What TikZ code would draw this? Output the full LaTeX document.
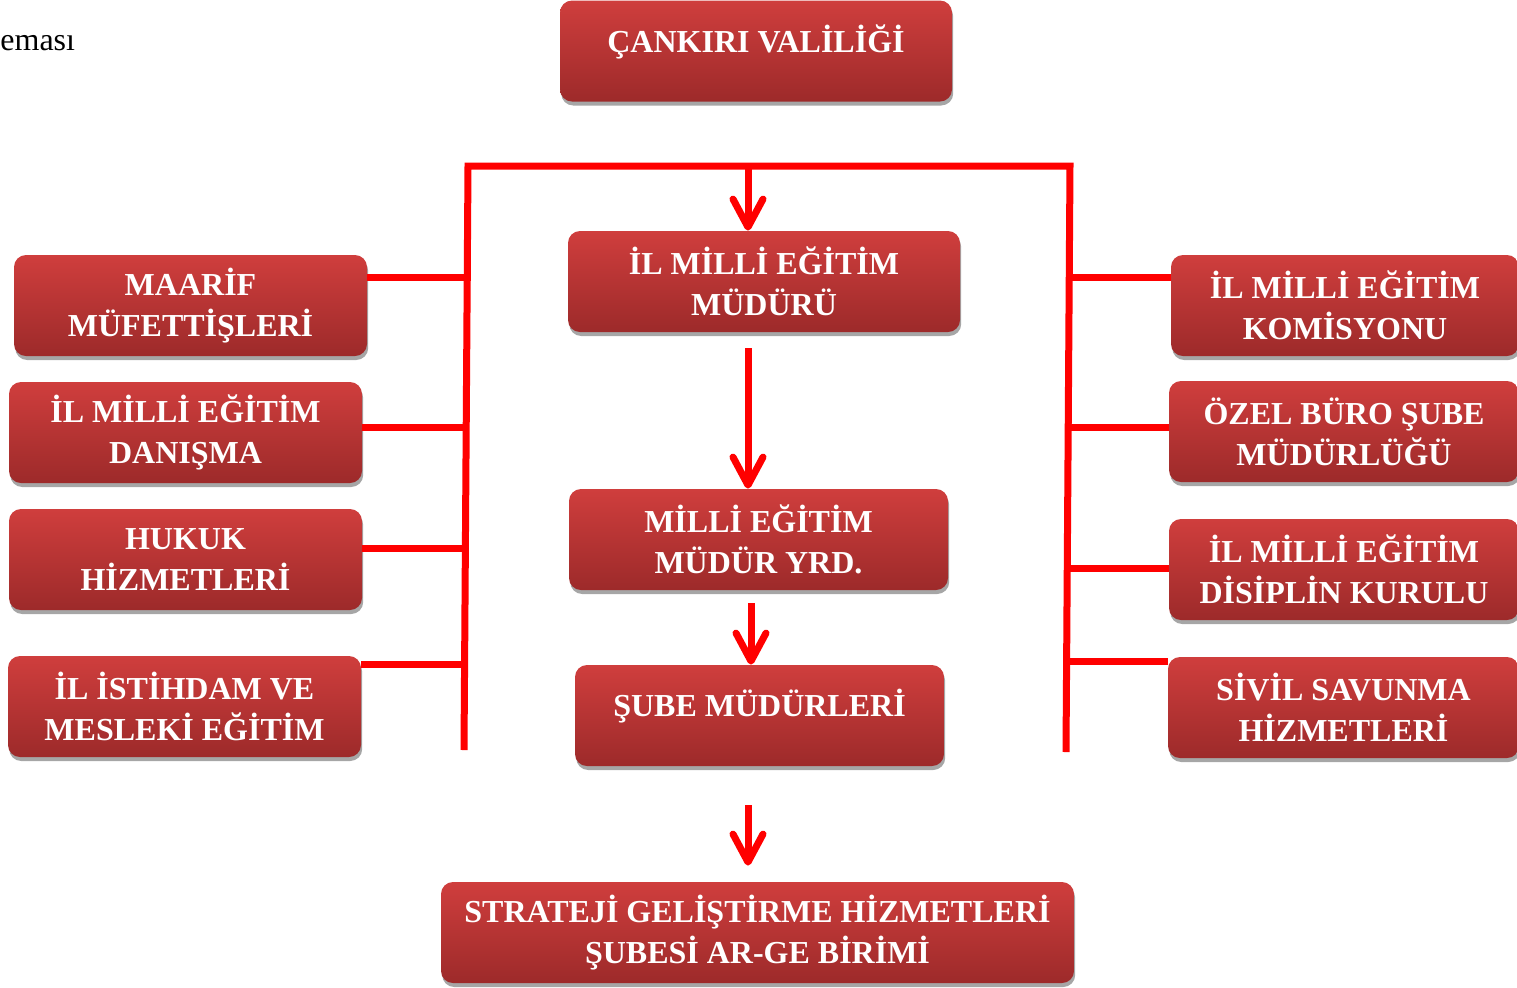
\documentclass[tikz,border=0pt]{standalone}
\usepackage{fontspec}
\setmainfont{Liberation Serif}
\usetikzlibrary{arrows.meta,shadows}
\definecolor{boxtop}{RGB}{207,62,61}
\definecolor{boxbot}{RGB}{157,42,42}
\definecolor{barred}{RGB}{255,0,0}
\tikzset{
  unit/.style={rounded corners=6pt, top color=boxtop, bottom color=boxbot,
    text=white, align=center, inner sep=2pt, minimum height=50.5pt,
    font=\bfseries\fontsize{16}{20.5}\selectfont,
    drop shadow={shadow xshift=0.6pt, shadow yshift=-2pt, fill=black!35, opacity=1}},
  oneline/.style={text height=14pt, text depth=13pt},
  bar/.style={line width=3.5pt, barred},
  arr/.style={line width=3.5pt, barred, -{Straight Barb[length=14pt,width=15pt,round]}}
}
\begin{document}
\begin{tikzpicture}[x=0.5pt,y=-0.5pt]
    \useasboundingbox (0,0) rectangle (1517,987);
    \node[anchor=base west, inner sep=0, font=\fontsize{16}{18}\selectfont] (caption) at (0,50) {emas\i};
    % centre column
    \node[unit, oneline, minimum width=196pt] (vali) at (756,51) {ÇANKIRI VALİLİĞİ};
    \node[unit, minimum width=196pt] (mudur) at (764,281.5) {İL MİLLİ EĞİTİM\\MÜDÜRÜ};
    \node[unit, minimum width=189.5pt] (yrd) at (758.5,539.5) {MİLLİ EĞİTİM\\MÜDÜR YRD.};
    \node[unit, oneline, minimum width=184.5pt] (sube) at (759.5,715.5) {ŞUBE MÜDÜRLERİ};
    \node[unit, minimum width=316.5pt] (strat) at (757.5,932.5) {STRATEJİ GELİŞTİRME HİZMETLERİ\\ŞUBESİ AR-GE BİRİMİ};
    % left column
    \node[unit, minimum width=176.5pt] (maarif) at (190.5,305.5) {MAARİF\\MÜFETTİŞLERİ};
    \node[unit, minimum width=176.5pt] (danisma) at (185.5,432.5) {İL MİLLİ EĞİTİM\\DANIŞMA};
    \node[unit, minimum width=176.5pt] (hukuk) at (185.5,559.5) {HUKUK\\HİZMETLERİ};
    \node[unit, minimum width=176.5pt] (istihdam) at (184.5,706.5) {İL İSTİHDAM VE\\MESLEKİ EĞİTİM};
    % right column
    \node[unit, minimum width=174pt] (komisyon) at (1345,305.5) {İL MİLLİ EĞİTİM\\KOMİSYONU};
    \node[unit, minimum width=175pt] (ozel) at (1344,431.5) {ÖZEL BÜRO ŞUBE\\MÜDÜRLÜĞÜ};
    \node[unit, minimum width=175pt] (disiplin) at (1344,569.5) {İL MİLLİ EĞİTİM\\DİSİPLİN KURULU};
    \node[unit, minimum width=175.5pt] (sivil) at (1343.5,707.5) {SİVİL SAVUNMA\\HİZMETLERİ};
    % frame
    \coordinate (lt) at (468,166);
    \coordinate (lb) at (464,750);
    \coordinate (rt) at (1070,166);
    \coordinate (rb) at (1066,752);
    \draw[bar] (lb) -- (lt) -- (rt) -- (rb);
    \draw[bar] (maarif.east |- 0,277) -- (471,277);
    \draw[bar] (danisma.east |- 0,427) -- (lt |- 0,427);
    \draw[bar] (hukuk.east |- 0,548) -- (lt |- 0,548);
    \draw[bar] (istihdam.east |- 0,664) -- (lt |- 0,664);
    \draw[bar] (komisyon.west |- 0,277) -- (rt |- 0,277);
    \draw[bar] (ozel.west |- 0,427) -- (rt |- 0,427);
    \draw[bar] (disiplin.west |- 0,568) -- (rt |- 0,568);
    \draw[bar] (sivil.west |- 0,661) -- (rt |- 0,661);
    % arrows
    \coordinate (a1) at (748,166);
    \coordinate (a2) at (748,348);
    \coordinate (a3) at (751,603);
    \coordinate (a4) at (748,805);
    \draw[arr] (a1) -- (a1 |- mudur.north);
    \draw[arr] (a2) -- (a2 |- yrd.north);
    \draw[arr] (a3) -- (a3 |- sube.north);
    \draw[arr, shorten >=8pt] (a4) -- (a4 |- strat.north);
\end{tikzpicture}
\end{document}
